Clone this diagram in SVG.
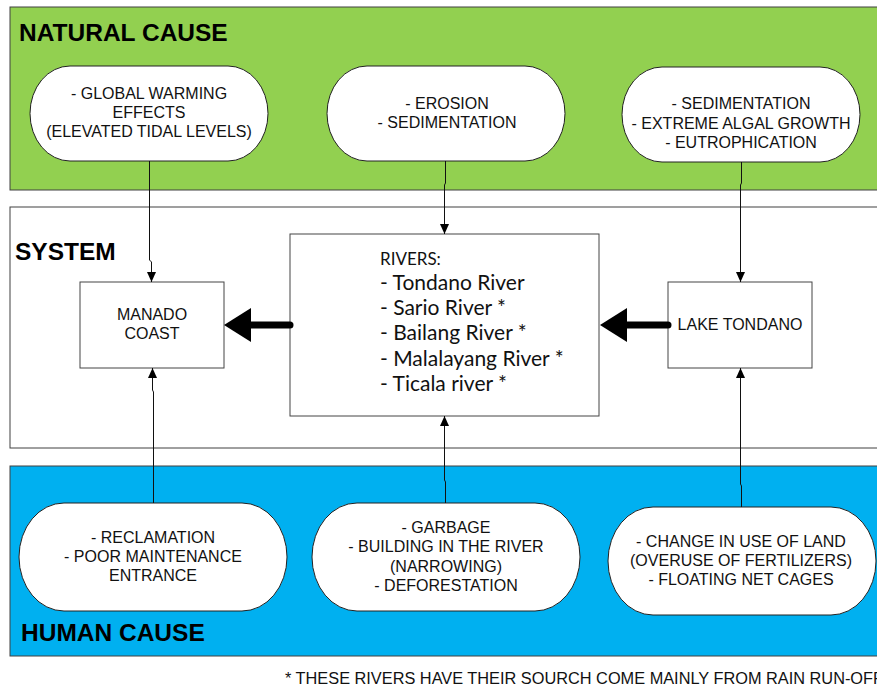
<svg xmlns="http://www.w3.org/2000/svg" width="877" height="686" viewBox="0 0 877 686">
<defs>
<style>
.band{stroke:#404040;stroke-width:1}
.pill{fill:#fff;stroke:#222;stroke-width:1}
.box{fill:#fff;stroke:#444;stroke-width:1}
.t{font-family:"Liberation Sans",Arial,sans-serif;font-size:16px;fill:#111;text-anchor:middle}
.h{font-family:"Liberation Sans",Arial,sans-serif;font-size:24.5px;font-weight:bold;fill:#000}
.r{font-family:Lato,"Open Sans",sans-serif;font-size:21px;fill:#111}
.c{fill:none;stroke:#111;stroke-width:1}
.thick{fill:none;stroke:#000;stroke-width:7;stroke-linecap:round}
</style>
<marker id="ah" viewBox="0 0 10 10" refX="10" refY="5" markerWidth="10" markerHeight="10" markerUnits="userSpaceOnUse" orient="auto">
<path d="M0,0.5 L10,5 L0,9.5 z" fill="#000"/>
</marker>
</defs>
<rect width="877" height="686" fill="#fff"/>
<g id="natural-cause">
<rect class="band" x="10" y="7" width="880" height="183" fill="#92D050"/>
<text class="h" x="19" y="41">NATURAL CAUSE</text>
</g>
<g id="system">
<rect class="band" x="10" y="207" width="880" height="241" fill="#fff" stroke="#555"/>
<text class="h" x="15" y="260">SYSTEM</text>
</g>
<g id="human-cause">
<rect class="band" x="10" y="466" width="880" height="190" fill="#00B0F0"/>
<text class="h" x="21" y="641">HUMAN CAUSE</text>
</g>
<g id="n1">
<rect class="pill" x="30" y="66" width="238" height="95" rx="40" ry="47.5"/>
<text class="t" x="149" y="99">- GLOBAL WARMING</text>
<text class="t" x="149" y="118">EFFECTS</text>
<text class="t" x="149" y="137">(ELEVATED TIDAL LEVELS)</text>
</g>
<g id="n2">
<rect class="pill" x="327" y="66" width="238" height="95" rx="40" ry="47.5"/>
<text class="t" x="447" y="109">- EROSION</text>
<text class="t" x="447" y="128">- SEDIMENTATION</text>
</g>
<g id="n3">
<rect class="pill" x="622" y="67" width="238" height="95" rx="40" ry="47.5"/>
<text class="t" x="741" y="109">- SEDIMENTATION</text>
<text class="t" x="741" y="129">- EXTREME ALGAL GROWTH</text>
<text class="t" x="741" y="148">- EUTROPHICATION</text>
</g>
<g id="manado">
<rect class="box" x="80" y="282" width="144" height="86"/>
<text class="t" x="152" y="320">MANADO</text>
<text class="t" x="152" y="339">COAST</text>
</g>
<g id="rivers">
<rect class="box" x="290" y="234" width="309" height="182"/>
<text class="r" x="380" y="265" style="font-size:17px">RIVERS:</text>
<text class="r" x="380" y="290">- Tondano River</text>
<text class="r" x="380" y="315">- Sario River *</text>
<text class="r" x="380" y="340">- Bailang River *</text>
<text class="r" x="380" y="366">- Malalayang River *</text>
<text class="r" x="380" y="391">- Ticala river *</text>
</g>
<g id="lake">
<rect class="box" x="668" y="282" width="144" height="86"/>
<text class="t" x="740" y="330">LAKE TONDANO</text>
</g>
<g id="h1">
<rect class="pill" x="19" y="503" width="268" height="108" rx="45" ry="54"/>
<text class="t" x="153" y="543">- RECLAMATION</text>
<text class="t" x="153" y="562">- POOR MAINTENANCE</text>
<text class="t" x="153" y="581">ENTRANCE</text>
</g>
<g id="h2">
<rect class="pill" x="312" y="503" width="268" height="108" rx="45" ry="54"/>
<text class="t" x="446" y="533">- GARBAGE</text>
<text class="t" x="446" y="552">- BUILDING IN THE RIVER</text>
<text class="t" x="446" y="572">(NARROWING)</text>
<text class="t" x="446" y="591">- DEFORESTATION</text>
</g>
<g id="h3">
<rect class="pill" x="608" y="507" width="268" height="108" rx="45" ry="54"/>
<text class="t" x="741" y="547">- CHANGE IN USE OF LAND</text>
<text class="t" x="741" y="566">(OVERUSE OF FERTILIZERS)</text>
<text class="t" x="741" y="585">- FLOATING NET CAGES</text>
</g>
<g id="connectors">
<path class="c" d="M149.5,161 V260 L151.5,262 V282" marker-end="url(#ah)"/>
<path class="c" d="M445.5,161 V183 L444.5,185 V234" marker-end="url(#ah)"/>
<path class="c" d="M741.5,162 V183 L740.5,185 V282" marker-end="url(#ah)"/>
<path class="c" d="M153.5,503 V392 L152.5,390 V368" marker-end="url(#ah)"/>
<path class="c" d="M445.5,503 V482 L444.5,480 V416" marker-end="url(#ah)"/>
<path class="c" d="M741.5,507 V486 L740.5,484 V368" marker-end="url(#ah)"/>
<path class="thick" d="M290,325 H248"/>
<path d="M224,325 L251,308 L251,342 z" fill="#000"/>
<path class="thick" d="M668,325 H624"/>
<path d="M600,325 L627,308 L627,342 z" fill="#000"/>
</g>
<text class="t" x="285" y="684" style="text-anchor:start" textLength="598" lengthAdjust="spacingAndGlyphs">* THESE RIVERS HAVE THEIR SOURCH COME MAINLY FROM RAIN RUN-OFF</text>
</svg>
